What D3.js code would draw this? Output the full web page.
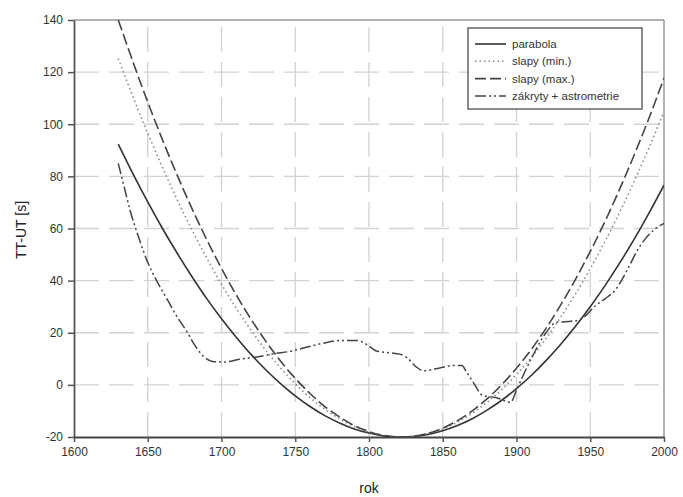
<!DOCTYPE html>
<html><head><meta charset="utf-8">
<script src="https://cdn.jsdelivr.net/npm/d3@7"></script>
<style>
body{margin:0;background:#fff}
text{font-family:"Liberation Sans",Arial,sans-serif}
</style></head>
<body><svg id="c" width="683" height="497"></svg>
<script>
// ---- data ----
const xTicks = [1600,1650,1700,1750,1800,1850,1900,1950,2000];
const yTicks = [-20,0,20,40,60,80,100,120,140];

const curveYears = [1630,1640,1650,1660,1670,1680,1690,1700,1710,1720,1730,1740,1750,1760,1770,1780,1790,1800,1810,1820,1830,1840,1850,1860,1870,1880,1890,1900,1910,1920,1930,1940,1950,1960,1970,1980,1990,2000];
const parabola = [92.4,81.0,70.2,60.0,50.5,41.5,33.1,25.4,18.3,11.7,5.8,0.5,-4.2,-8.3,-11.8,-14.6,-16.9,-18.5,-19.6,-20.0,-19.8,-19.0,-17.6,-15.6,-13.0,-9.7,-5.9,-1.4,3.6,9.3,15.6,22.5,30.0,38.1,46.8,56.1,66.1,76.6];
const slapyMin = [125.2,110.5,96.6,83.4,71.0,59.4,48.7,38.6,29.4,21.0,13.3,6.5,0.4,-4.9,-9.3,-13.0,-16.0,-18.1,-19.4,-20.0,-19.7,-18.7,-16.9,-14.3,-10.9,-6.7,-1.8,4.0,10.5,17.8,26.0,34.9,44.6,55.0,66.3,78.4,91.2,104.8];
const slapyMax = [140.0,123.9,108.5,94.0,80.4,67.6,55.7,44.7,34.5,25.2,16.8,9.2,2.5,-3.3,-8.3,-12.3,-15.6,-17.9,-19.4,-20.0,-19.7,-18.6,-16.6,-13.7,-10.0,-5.4,0.1,6.4,13.6,21.7,30.7,40.5,51.2,62.7,75.2,88.5,102.6,117.7];

const zakrytyYears = [1630,1634,1638,1643,1650,1656,1664,1670,1677,1681,1687,1694,1702,1712,1725,1736,1746,1758,1769,1780,1792,1799,1805,1814,1821,1826,1832,1837,1848,1857,1863,1866,1871,1877,1887,1896,1900,1904,1910,1920,1927,1935,1943,1954,1960,1967,1975,1982,1993,2000];
const zakryty = [85,76,67,58,47,40,32,26,20,16,11.4,9,8.8,9.8,10.8,12,12.8,14.5,16,17,17,15.3,13,12.3,11.8,10.3,6.9,5.4,6.5,7.4,7.4,5,0.7,-4,-5,-6.7,-2,3,10,20,24,24.3,25,30.6,33,36.4,44,51.7,59.4,62];

const seriesNames = ["parabola","slapy (min.)","slapy (max.)","zákryty + astrometrie"];
const xLabel = "rok", yLabel = "TT-UT [s]";

// ---- layout ----
const svg = d3.select("#c");
const L = 74, R = 664, T = 20, B = 437;
const x = d3.scaleLinear().domain([1600,2000]).range([L,R]);
const y = d3.scaleLinear().domain([-20,140]).range([B,T]);

// grid
const g = svg.append("g");
g.selectAll(".hg").data(yTicks.filter(v=>v>-20 && v<140)).enter().append("line")
  .attr("x1",L).attr("x2",R).attr("y1",d=>y(d)).attr("y2",d=>y(d))
  .attr("stroke","#d2d2d2").attr("stroke-width",1.3).attr("stroke-dasharray","25,10");
g.selectAll(".vg").data(xTicks.filter(v=>v>1600 && v<2000)).enter().append("line")
  .attr("x1",d=>x(d)).attr("x2",d=>x(d)).attr("y1",B).attr("y2",T)
  .attr("stroke","#d2d2d2").attr("stroke-width",1.3).attr("stroke-dasharray","25,10");

// frame top/right
svg.append("line").attr("x1",L).attr("x2",R).attr("y1",T).attr("y2",T).attr("stroke","#999").attr("stroke-width",1.5);
svg.append("line").attr("x1",R).attr("x2",R).attr("y1",T).attr("y2",B).attr("stroke","#999").attr("stroke-width",1.5);

// clip
svg.append("clipPath").attr("id","clip").append("rect").attr("x",L).attr("y",T-1).attr("width",R-L).attr("height",B-T+1);

const styles = [
  {stroke:"#333", width:1.6, dash:null},
  {stroke:"#8a8a8a", width:1.6, dash:"1.5,3"},
  {stroke:"#444", width:1.6, dash:"11,4"},
  {stroke:"#444", width:1.5, dash:"11,3,2,3,2,3"}
];
const data = [
  curveYears.map((yr,i)=>[yr,parabola[i]]),
  curveYears.map((yr,i)=>[yr,slapyMin[i]]),
  curveYears.map((yr,i)=>[yr,slapyMax[i]]),
  zakrytyYears.map((yr,i)=>[yr,zakryty[i]])
];
const lineSmooth = d3.line().x(d=>x(d[0])).y(d=>y(d[1])).curve(d3.curveCatmullRom.alpha(0.5));
const lineData = d3.line().x(d=>x(d[0])).y(d=>y(d[1])).curve(d3.curveMonotoneX);
const pg = svg.append("g").attr("clip-path","url(#clip)");
data.forEach((d,i)=>{
  pg.append("path").attr("d", i===3 ? lineData(d) : lineSmooth(d))
    .attr("fill","none").attr("stroke",styles[i].stroke).attr("stroke-width",styles[i].width)
    .attr("stroke-dasharray",styles[i].dash);
});

// axes
const fmt = d => String(d);
const ya = svg.append("g").attr("transform",`translate(${L},0)`)
  .call(d3.axisLeft(y).tickValues(yTicks).tickSize(6).tickSizeOuter(0).tickPadding(5).tickFormat(fmt));
const xa = svg.append("g").attr("transform",`translate(0,${B})`)
  .call(d3.axisBottom(x).tickValues(xTicks).tickSize(5).tickSizeOuter(0).tickPadding(5).tickFormat(fmt));
[ya,xa].forEach(a=>{
  a.select(".domain").attr("stroke","#555").attr("stroke-width",1.8);
  a.selectAll(".tick line").attr("stroke","#555").attr("stroke-width",1.5);
  a.selectAll(".tick text").attr("fill","#333").style("font-size","12px").style("font-family","'Liberation Sans',Arial,sans-serif");
});
xa.select(".domain").attr("stroke","#444").attr("stroke-width",2);

// axis titles
svg.append("text").attr("x",(L+R)/2).attr("y",493).attr("text-anchor","middle")
  .attr("fill","#222").style("font-size","14px").text(xLabel);
svg.append("text").attr("transform","translate(26,230) rotate(-90)").attr("text-anchor","middle")
  .attr("fill","#222").style("font-size","14px").text(yLabel);

// legend
const lg = svg.append("g");
lg.append("rect").attr("x",468).attr("y",28).attr("width",174).attr("height",81)
  .attr("fill","#fff").attr("stroke","#666").attr("stroke-width",1.5);
seriesNames.forEach((n,i)=>{
  const yy = 44 + i*17.3;
  lg.append("line").attr("x1",475).attr("x2",506).attr("y1",yy).attr("y2",yy)
    .attr("stroke",styles[i].stroke).attr("stroke-width",styles[i].width).attr("stroke-dasharray",styles[i].dash);
  lg.append("text").attr("x",512).attr("y",yy+4).attr("fill","#333").style("font-size","11.5px").text(n);
});
</script></body></html>
